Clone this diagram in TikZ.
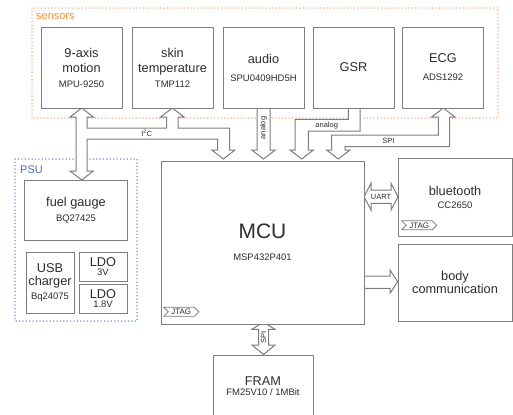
\documentclass[tikz,border=0pt]{standalone}
\usepackage{fontspec}
\setmainfont{Liberation Sans}
\usepackage{xcolor}
\usepackage{tikz}
\usetikzlibrary{shapes.symbols}

\definecolor{boxgray}{RGB}{125,125,125}
\definecolor{textgray}{RGB}{45,45,45}
\definecolor{sensorange}{RGB}{245,140,60}
\definecolor{sensdots}{RGB}{247,160,100}
\definecolor{psublue}{RGB}{70,112,185}
\definecolor{psudots}{RGB}{85,125,195}

\newcommand{\sub}[1]{{\fontsize{9.5}{11}\selectfont #1}}

\tikzset{
  blk/.style={draw=boxgray, line width=1bp, fill=white, align=center, text=textgray,
              font=\fontsize{12.8}{15}\selectfont, inner sep=0pt},
  bus/.style={draw=boxgray, line width=1bp, fill=white},
  tag/.style={draw=boxgray, line width=0.8bp, fill=white, text=textgray, signal,
              signal from=west, signal to=east, font=\fontsize{8}{8}\selectfont,
              inner sep=1bp, minimum height=9bp, minimum width=35bp},
  buslabel/.style={text=textgray, font=\fontsize{7.5}{7.5}\selectfont, inner sep=0pt},
  grouplabel/.style={anchor=west, font=\fontsize{11}{11}\selectfont, inner sep=0pt},
  groupbox/.style={line width=1.5bp, line cap=round, dash pattern=on 0bp off 3.4bp},
}

\begin{document}
\begin{tikzpicture}[x=1bp, y=-1bp]
    \useasboundingbox (0,0) rectangle (513,414);

    % ===== Sensors group =====
    \draw[groupbox, sensdots] (32,8) rectangle (498,118);
    \node[grouplabel, text=sensorange] (sensorslabel) at (36,17) {sensors};

    % ===== PSU group =====
    \draw[groupbox, psudots] (15,159) rectangle (137,321);
    \node[grouplabel, text=psublue] (psulabel) at (20,170) {PSU};

    % ===== Buses (hollow block arrows) =====
    % I2C: motion <-> fuel gauge, skin temperature -> MCU
    \draw[bus] (81.7,108) -- (93.4,117) -- (87,117) -- (87,128) -- (166.7,128)
        -- (166.7,117) -- (160.6,117) -- (172.3,108) -- (184,117) -- (178,117)
        -- (178,128) -- (229.5,128) -- (229.5,150) -- (235,150) -- (223.3,159)
        -- (211.7,150) -- (217.5,150) -- (217.5,139) -- (87,139) -- (87,171)
        -- (93.4,171) -- (81.7,180) -- (70,171) -- (76,171) -- (76,117)
        -- (70,117) -- cycle;
    \node[buslabel] (iicbus) at (146.7,133.5) {I\textsuperscript{2}C};

    % audio -> MCU
    \draw[bus] (257,108) -- (257,150) -- (251.7,150) -- (263.5,159) -- (275.3,150)
        -- (270,150) -- (270,108);
    \node[buslabel, rotate=90] (audiobus) at (263.5,128) {analog};

    % GSR -> MCU
    \draw[bus] (348.3,108) -- (348.3,119.3) -- (295,119.3) -- (295,150) -- (290,150)
        -- (301.7,159) -- (313.4,150) -- (308.3,150) -- (308.3,131) -- (360,131)
        -- (360,108);
    \node[buslabel] (gsrbus) at (326.7,125.3) {analog};

    % ECG <-> MCU (SPI)
    \draw[bus] (443.3,108) -- (455,117) -- (449.7,117) -- (449.7,146.7) -- (345,146.7)
        -- (345,150) -- (350,150) -- (338.3,159) -- (326.6,150) -- (331.7,150)
        -- (331.7,135) -- (438.3,135) -- (438.3,117) -- (431.7,117) -- cycle;
    \node[buslabel] (ecgbus) at (388.3,141) {SPI};

    % MCU <-> bluetooth (UART)
    \draw[bus] (364,196.7) -- (371,183.3) -- (371,190) -- (391,190) -- (391,183.3)
        -- (398,196.7) -- (391,210) -- (391,203.3) -- (371,203.3) -- (371,210) -- cycle;
    \node[buslabel] (uartbus) at (381,196.9) {UART};

    % MCU -> body communication
    \draw[bus] (364,276) -- (390,276) -- (390,270) -- (397.7,281.7) -- (390,293.3)
        -- (390,288.3) -- (364,288.3);

    % MCU <-> FRAM (SPI)
    \draw[bus] (263.5,322) -- (275,329.3) -- (268.5,329.3) -- (268.5,345) -- (275,345)
        -- (263.5,354.5) -- (252,345) -- (258.5,345) -- (258.5,329.3) -- (252,329.3) -- cycle;
    \node[buslabel, rotate=90] (frambus) at (263.5,337.2) {SPI};

    % ===== Sensor boxes =====
    \foreach \n/\x/\t in {motion/81.5/{9-axis\\motion\\\sub{MPU-9250}},
                          skintemp/172.5/{skin\\temperature\\\sub{TMP112}},
                          audio/263.5/{audio\\[3bp]\sub{SPU0409HD5H}},
                          gsr/353.5/{GSR},
                          ecg/443/{ECG\\[3bp]\sub{ADS1292}}} {
        \node[blk, minimum width=81bp, minimum height=81bp] (\n) at (\x,67.5) {\t};
    }

    % ===== PSU boxes =====
    \node[blk, minimum width=102bp, minimum height=60bp] (fuelgauge) at (76,210)
        {fuel gauge\\\sub{BQ27425}};
    \node[blk, minimum width=48bp, minimum height=61bp] (charger) at (50,282.5)
        {USB\\[-1.5bp]charger\\[-1.5bp]\sub{Bq24075}};
    \node[blk, minimum width=48bp, minimum height=29bp] (ldothree) at (103,266.5)
        {LDO\\[-6bp]\sub{3V}};
    \node[blk, minimum width=48bp, minimum height=29bp] (ldoone) at (103,298.5)
        {LDO\\[-6bp]\sub{1.8V}};

    % ===== MCU and peripherals =====
    \node[blk, minimum width=203bp, minimum height=163bp, font=\fontsize{21}{22}\selectfont]
        (mcu) at (262.5,242.5) {MCU\\\sub{MSP432P401}};
    \node[tag] (mcujtag) at (181.3,311.8) {JTAG};

    \node[blk, minimum width=114bp, minimum height=78bp] (bluetooth) at (455,197)
        {bluetooth\\[-2bp]\sub{CC2650}};
    \node[tag] (btjtag) at (419.2,225.3) {JTAG};

    \node[blk, minimum width=114bp, minimum height=77bp] (bodycomm) at (455,282.5)
        {body\\[-2bp]communication};

    \node[blk, minimum width=100bp, minimum height=62bp] (fram) at (263,386)
        {FRAM\\[-4.5bp]\sub{FM25V10 / 1MBit}};
\end{tikzpicture}
\end{document}
